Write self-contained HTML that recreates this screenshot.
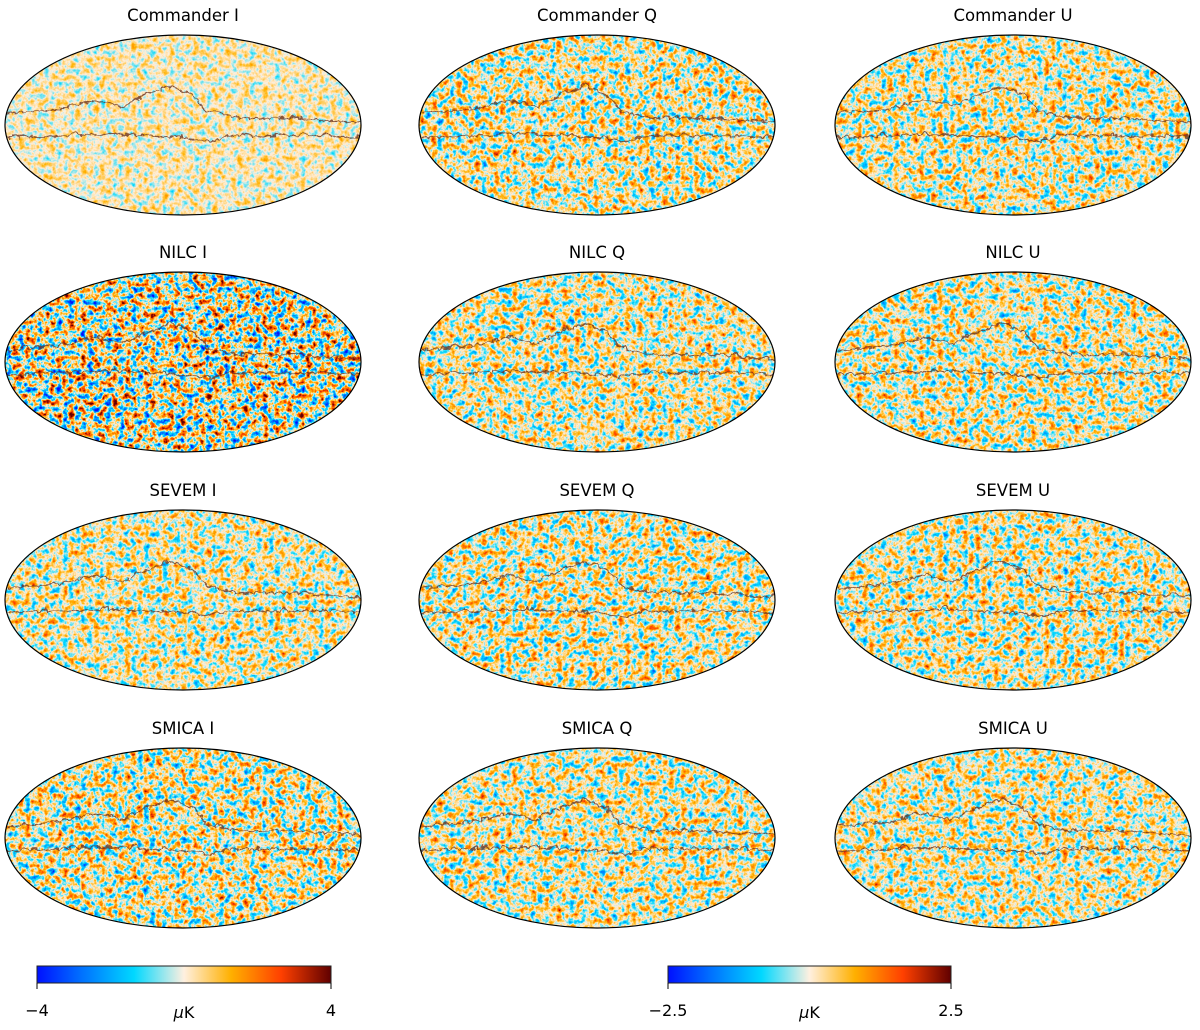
<!DOCTYPE html>
<html><head><meta charset="utf-8"><style>
body{margin:0;background:#fff;}
svg text{font-family:"DejaVu Sans","Liberation Sans",sans-serif;}
</style></head><body>
<svg id="fig" width="1200" height="1025" viewBox="0 0 1200 1025" xmlns="http://www.w3.org/2000/svg">
<defs id="defs">
<linearGradient id="cmap" x1="0" x2="1" y1="0" y2="0">
<stop offset="0" stop-color="#0010ff"/><stop offset="0.15" stop-color="#0070ff"/><stop offset="0.33" stop-color="#00d8ff"/><stop offset="0.5" stop-color="#fff0e0"/><stop offset="0.66" stop-color="#ffb000"/><stop offset="0.83" stop-color="#ff4000"/><stop offset="1" stop-color="#600000"/>
</linearGradient>
</defs>
</svg>
<script>
const titles=["Commander I","Commander Q","Commander U","NILC I","NILC Q","NILC U","SEVEM I","SEVEM Q","SEVEM U","SMICA I","SMICA Q","SMICA U"];
const contrast=[0.5,1.0,0.95,1.6,1.0,0.95,0.9,1.0,0.95,1.1,0.95,0.9];
const bias=[0.02,0.02,0.02,0.02,0.02,0.02,0.02,0.02,0.02,0.02,0.02,0.02];
const cbLeftTicks=[-4,4];
const cbRightTicks=[-2.5,2.5];
const colCx=[183,597,1013], rowCy=[125,362,600,838], RX=178, RY=90;
const NS="http://www.w3.org/2000/svg";
const svg=document.getElementById('fig'), defs=document.getElementById('defs');
function mk(t,a,p){const e=document.createElementNS(NS,t);for(const k in a)e.setAttribute(k,a[k]);(p||svg).appendChild(e);return e;}
const upper=[[-1,-0.15],[-0.7,-0.2],[-0.5,-0.3],[-0.35,-0.22],[-0.22,-0.35],[-0.08,-0.45],[0.05,-0.35],[0.13,-0.17],[0.3,-0.1],[0.6,-0.1],[1,-0.05]];
const lower=[[-1,0.12],[-0.7,0.1],[-0.4,0.08],[-0.2,0.1],[0,0.12],[0.15,0.16],[0.25,0.1],[0.5,0.1],[0.8,0.1],[1,0.12]];
titles.forEach((t,i)=>{
  const r=Math.floor(i/3),c=i%3,cx=colCx[c],cy=rowCy[r];
  const k=contrast[i], b=0.5-0.5*k+bias[i];
  const f=mk('filter',{id:'n'+i,filterUnits:'userSpaceOnUse',x:cx-RX,y:cy-RY,width:2*RX,height:2*RY,'color-interpolation-filters':'sRGB'},defs);
  mk('feTurbulence',{type:'fractalNoise',baseFrequency:'0.16',numOctaves:'3',seed:String(i*7+3),result:'t'},f);
  mk('feColorMatrix',{type:'matrix',values:'1 0 0 0 0 1 0 0 0 0 1 0 0 0 0 0 0 0 0 1',result:'g'},f);
  const ct=mk('feComponentTransfer',{result:'s'},f);
  ['R','G','B'].forEach(ch=>mk('feFunc'+ch,{type:'linear',slope:k,intercept:b},ct));
  const ct2=mk('feComponentTransfer',{},f);
  mk('feFuncR',{type:'table',tableValues:'0 0 0 1 1 1 0.4'},ct2);
  mk('feFuncG',{type:'table',tableValues:'0.06 0.45 0.85 0.94 0.7 0.25 0'},ct2);
  mk('feFuncB',{type:'table',tableValues:'1 1 1 0.87 0 0 0'},ct2);
  const cp=mk('clipPath',{id:'c'+i},defs);
  mk('ellipse',{cx:cx,cy:cy,rx:RX,ry:RY},cp);
  const df=mk('filter',{id:'w'+i,filterUnits:'userSpaceOnUse',x:cx-RX,y:cy-RY,width:2*RX,height:2*RY},defs);
  mk('feTurbulence',{type:'turbulence',baseFrequency:'0.1',numOctaves:'2',seed:String(i+1),result:'d'},df);
  mk('feDisplacementMap',{in:'SourceGraphic',in2:'d',scale:'7',xChannelSelector:'R',yChannelSelector:'G'},df);
  const g=mk('g',{'clip-path':'url(#c'+i+')'});
  
  
  mk('rect',{x:cx-RX,y:cy-RY,width:2*RX,height:2*RY,filter:'url(#n'+i+')'},g);
  [upper,lower].forEach((L,j)=>{
    const p=mk('path',{d:'M'+L.map(q=>(cx+q[0]*RX).toFixed(1)+' '+(cy+q[1]*RY).toFixed(1)).join(' L'),fill:'none',stroke:'#6a3222','stroke-width':'1.3','stroke-opacity':'0.8',filter:'url(#w'+i+')'},g);
    
    
  });
  const e=mk('ellipse',{cx:cx,cy:cy,rx:RX,ry:RY,fill:'none',stroke:'#000','stroke-width':'1.2'});
  
  
  const tx=mk('text',{x:cx,y:cy-RY-14,'text-anchor':'middle','font-size':'16.5',fill:'#000'});
  tx.textContent=t;
  
  
});
function colorbar(x0,x1,ticks,name){
  const g=mk('g',{});
  
  
  mk('rect',{x:x0,y:966,width:x1-x0,height:17,fill:'url(#cmap)',stroke:'#222','stroke-width':'1'},g);
  const sc=v=>x0+(v-ticks[0])/(ticks[1]-ticks[0])*(x1-x0);
  ticks.forEach(v=>{
    mk('line',{x1:sc(v),x2:sc(v),y1:983,y2:989,stroke:'#000','stroke-width':'1'},g);
    const t=mk('text',{x:sc(v),y:1016,'text-anchor':'middle','font-size':'16'},g);
    t.textContent=(v<0?'\u2212':'')+Math.abs(v);
    
    
  });
  const u=mk('text',{x:(x0+x1)/2,y:1018,'text-anchor':'middle','font-size':'16'},g);
  u.innerHTML='<tspan font-style="italic">\u03bc</tspan>K';
  
  
}
colorbar(37,331,cbLeftTicks,'colorbar-intensity');
colorbar(668,951,cbRightTicks,'colorbar-polarization');
</script>
</body></html>
